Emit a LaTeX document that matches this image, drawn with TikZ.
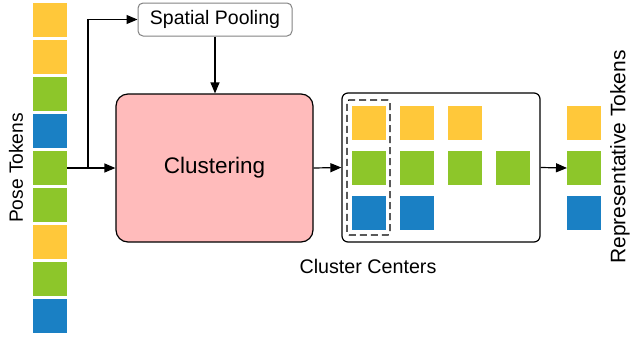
\documentclass[tikz,border=0pt]{standalone}
\usepackage{fontspec}
\setmainfont{Liberation Sans}
\usetikzlibrary{arrows.meta}
\definecolor{tyel}{RGB}{255,200,58}
\definecolor{tgrn}{RGB}{141,198,42}
\definecolor{tblu}{RGB}{26,128,196}
\definecolor{tpink}{RGB}{255,187,187}
\definecolor{sgray}{RGB}{130,130,130}
\begin{document}
\begin{tikzpicture}[x=1pt,y=-1pt,
  tok/.style={minimum size=34pt,inner sep=0pt,outer sep=0pt},
  Y/.style={tok,fill=tyel},
  G/.style={tok,fill=tgrn},
  B/.style={tok,fill=tblu},
  arr/.style={line width=1.2pt,-{Triangle[length=11pt,width=9pt]}},
  lbl/.style={font=\fontsize{20}{24}\selectfont,inner sep=0pt}]
\useasboundingbox (0,0) rectangle (631,338);
% pose tokens
\node[Y] (t1) at (50,20) {};
\node[Y] (t2) at (50,57) {};
\node[G] (t3) at (50,94) {};
\node[B] (t4) at (50,131) {};
\node[G] (t5) at (50,168) {};
\node[G] (t6) at (50,205) {};
\node[Y] (t7) at (50,242) {};
\node[G] (t8) at (50,279) {};
\node[B] (t9) at (50,316) {};
\node[lbl,rotate=90,font=\fontsize{19.2}{23}\selectfont] (pt) at (16,168) {Pose Tokens};
% spatial pooling
\node[draw=sgray,line width=1pt,rounded corners=5pt,minimum width=154pt,minimum height=33pt,inner sep=0pt,font=\fontsize{19.5}{23}\selectfont] (sp) at (215,19.5) {Spatial Pooling};
% clustering
\node[draw,fill=tpink,line width=1.2pt,rounded corners=12pt,minimum width=197pt,minimum height=148pt,inner sep=0pt,font=\fontsize{22.5}{27}\selectfont] (clus) at (214.5,168) {Clustering};
% cluster centers box
\node[draw,line width=1.2pt,rounded corners=6pt,minimum width=198pt,minimum height=149pt,inner sep=0pt] (cc) at (441,167.5) {};
\node[draw,dashed,dash pattern=on 7pt off 4pt,line width=1.2pt,rounded corners=2pt,minimum width=43pt,minimum height=135pt,inner sep=0pt] (db) at (368.5,167.5) {};
\node[Y] (c11) at (369,123) {};
\node[Y] (c12) at (417,123) {};
\node[Y] (c13) at (465,123) {};
\node[G] (c21) at (369,168) {};
\node[G] (c22) at (417,168) {};
\node[G] (c23) at (465,168) {};
\node[G] (c24) at (513,168) {};
\node[B] (c31) at (369,213) {};
\node[B] (c32) at (417,213) {};
\node[lbl,font=\fontsize{19.7}{23}\selectfont] (cct) at (368,266) {Cluster Centers};
% representative tokens
\node[Y] (r1) at (584,123) {};
\node[G] (r2) at (584,168) {};
\node[B] (r3) at (584,213) {};
\node[lbl,rotate=90,font=\fontsize{21}{25}\selectfont] (rt) at (620,157) {Representative Tokens};
% connectors
\coordinate (br) at (88,168);
\draw[arr] (t5.east) -- (clus.west);
\draw[arr] (br) |- (sp.west);
\draw[arr] (sp.south) -- (sp.south |- clus.north);
\draw[arr] (clus.east) -- (cc.west);
\draw[arr] (cc.east) -- (r2.west);
\end{tikzpicture}
\end{document}
